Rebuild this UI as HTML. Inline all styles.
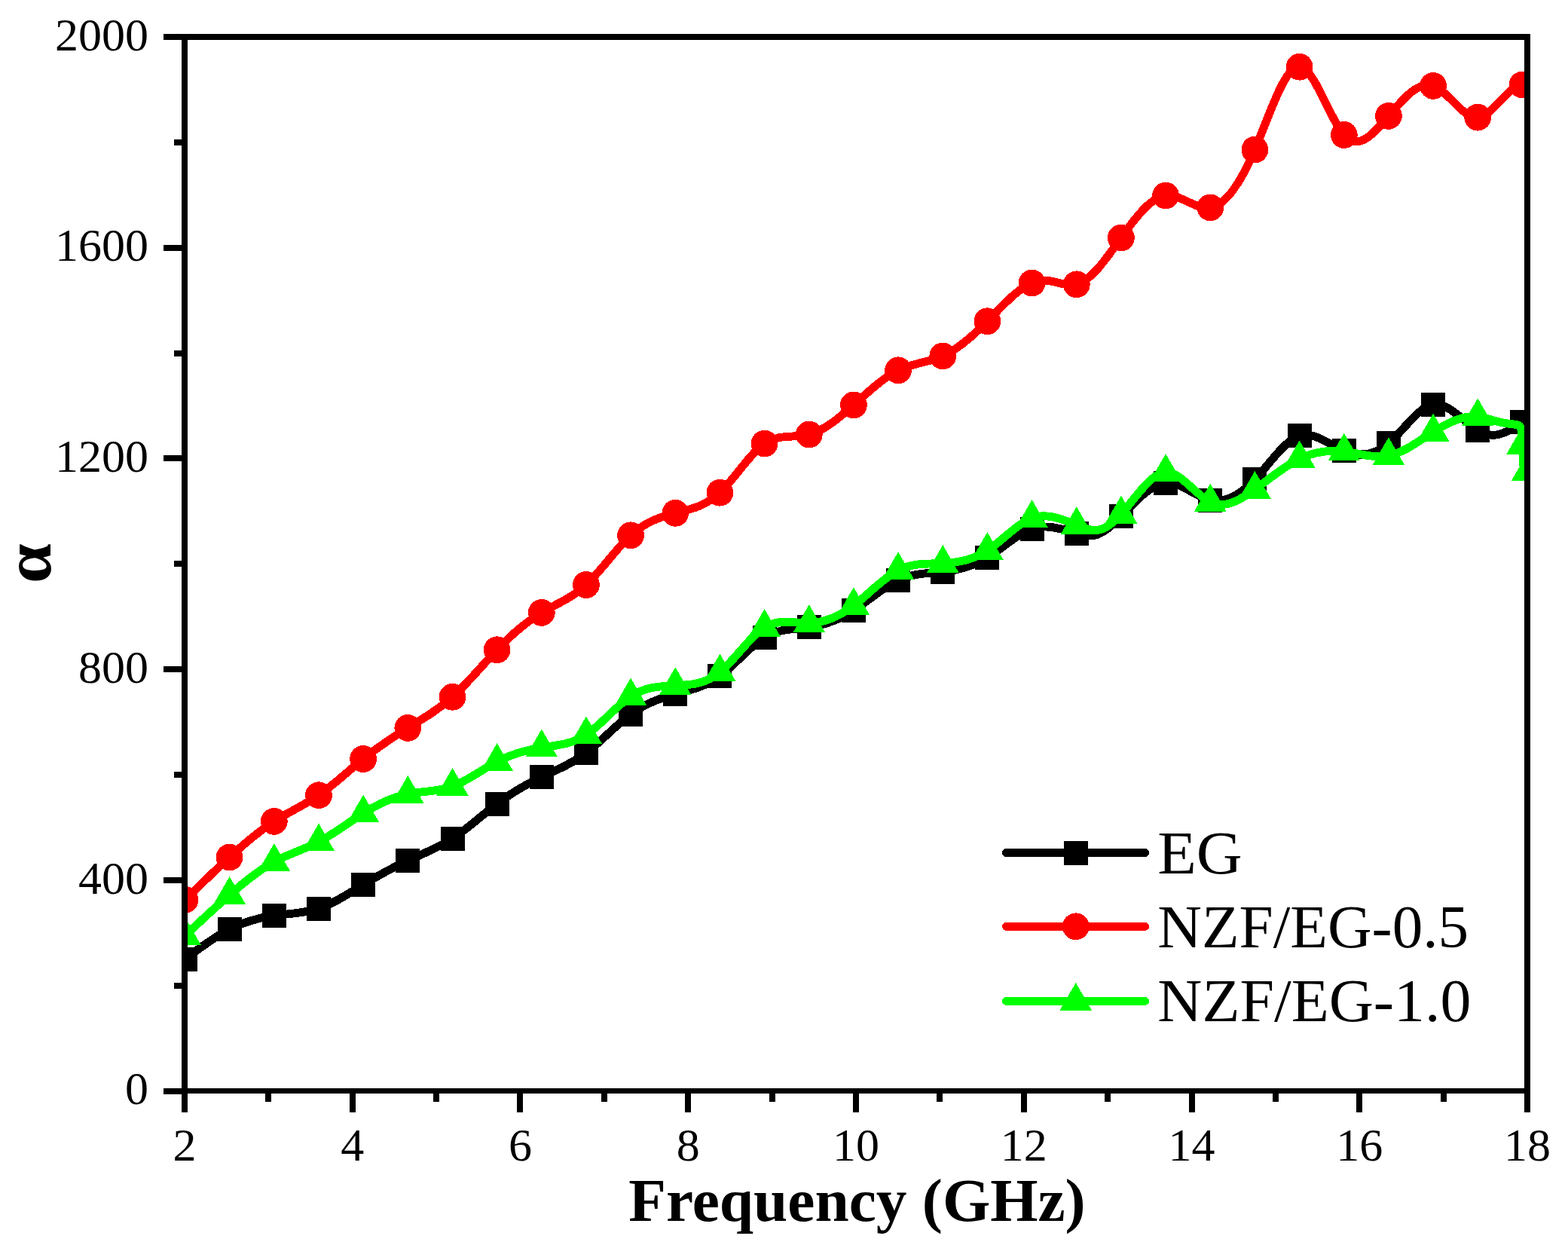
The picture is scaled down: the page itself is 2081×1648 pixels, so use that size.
<!DOCTYPE html>
<html><head><meta charset="utf-8"><title>Frequency vs alpha</title>
<style>html,body{margin:0;padding:0;background:#fff;}svg{display:block;}text{font-family:"Liberation Serif","Times New Roman",serif;fill:#000;}</style></head><body>
<svg width="2081" height="1648" viewBox="0 0 2081 1648" shape-rendering="crispEdges">
<rect x="0" y="0" width="2081" height="1648" fill="#fff"/>
<defs><clipPath id="pa"><rect x="245.0" y="48.9" width="1782.0" height="1398.8999999999999"/></clipPath></defs>
<g clip-path="url(#pa)">
<path d="M245.5,1272.5C265.2,1257.8 284.9,1243.0 304.6,1233.0C324.3,1223.0 344.1,1217.6 363.8,1214.9C383.5,1212.2 403.2,1212.1 423.0,1205.5C442.7,1198.9 462.4,1185.9 482.1,1173.9C501.8,1161.9 521.6,1150.9 541.3,1141.8C561.0,1132.7 580.7,1125.5 600.5,1112.7C620.2,1099.9 639.9,1081.4 659.6,1066.5C679.3,1051.6 699.1,1040.4 718.8,1031.0C738.5,1021.6 758.2,1013.9 777.9,999.0C797.7,984.1 817.4,962.1 837.1,947.6C856.8,933.1 876.6,926.2 896.3,920.8C916.0,915.4 935.7,911.7 955.4,897.2C975.2,882.7 994.9,857.6 1014.6,845.7C1034.3,833.8 1054.0,835.1 1073.8,832.3C1093.5,829.5 1113.2,822.6 1132.9,809.9C1152.7,797.2 1172.4,778.8 1192.1,769.7C1211.8,760.6 1231.5,760.8 1251.3,758.7C1271.0,756.6 1290.7,752.1 1310.4,740.0C1330.2,727.9 1349.9,708.1 1369.6,701.6C1389.3,695.1 1409.0,702.0 1428.8,707.7C1436.5,710.0 1444.3,712.0 1452.0,710.5C1464.0,708.1 1476.0,697.1 1487.9,685.0C1507.6,665.1 1527.4,642.2 1547.1,640.7C1566.8,639.2 1586.5,659.0 1606.3,663.5C1626.0,668.0 1645.7,657.1 1665.4,636.3C1685.1,615.5 1704.9,584.6 1724.6,578.3C1744.3,572.0 1764.0,590.2 1783.8,598.4C1803.5,606.6 1823.2,605.0 1842.9,588.3C1862.6,571.6 1882.4,540.0 1902.1,536.8C1921.8,533.6 1941.5,558.9 1961.2,570.8C1967.5,574.6 1973.7,577.0 1980.0,577.3C1993.5,578.0 2006.9,569.0 2020.4,560.0" fill="none" stroke="#000" stroke-width="10.9" stroke-linejoin="round" stroke-linecap="butt"/>
<g fill="#000">
<rect x="229.5" y="1256.5" width="32.0" height="32.0"/>
<rect x="288.6" y="1217.0" width="32.0" height="32.0"/>
<rect x="347.8" y="1198.9" width="32.0" height="32.0"/>
<rect x="407.0" y="1189.5" width="32.0" height="32.0"/>
<rect x="466.1" y="1157.9" width="32.0" height="32.0"/>
<rect x="525.3" y="1125.8" width="32.0" height="32.0"/>
<rect x="584.5" y="1096.7" width="32.0" height="32.0"/>
<rect x="643.6" y="1050.5" width="32.0" height="32.0"/>
<rect x="702.8" y="1015.0" width="32.0" height="32.0"/>
<rect x="761.9" y="983.0" width="32.0" height="32.0"/>
<rect x="821.1" y="931.6" width="32.0" height="32.0"/>
<rect x="880.3" y="904.8" width="32.0" height="32.0"/>
<rect x="939.4" y="881.2" width="32.0" height="32.0"/>
<rect x="998.6" y="829.7" width="32.0" height="32.0"/>
<rect x="1057.8" y="816.3" width="32.0" height="32.0"/>
<rect x="1116.9" y="793.9" width="32.0" height="32.0"/>
<rect x="1176.1" y="753.7" width="32.0" height="32.0"/>
<rect x="1235.3" y="742.7" width="32.0" height="32.0"/>
<rect x="1294.4" y="724.0" width="32.0" height="32.0"/>
<rect x="1353.6" y="685.6" width="32.0" height="32.0"/>
<rect x="1412.8" y="691.7" width="32.0" height="32.0"/>
<rect x="1471.9" y="669.0" width="32.0" height="32.0"/>
<rect x="1531.1" y="624.7" width="32.0" height="32.0"/>
<rect x="1590.3" y="647.5" width="32.0" height="32.0"/>
<rect x="1649.4" y="620.3" width="32.0" height="32.0"/>
<rect x="1708.6" y="562.3" width="32.0" height="32.0"/>
<rect x="1767.8" y="582.4" width="32.0" height="32.0"/>
<rect x="1826.9" y="572.3" width="32.0" height="32.0"/>
<rect x="1886.1" y="520.8" width="32.0" height="32.0"/>
<rect x="1945.2" y="554.8" width="32.0" height="32.0"/>
<rect x="2004.4" y="544.0" width="32.0" height="32.0"/>
</g>
<path d="M245.5,1193.9C265.2,1174.7 284.9,1155.5 304.6,1137.5C324.3,1119.5 344.1,1102.6 363.8,1089.9C383.5,1077.2 403.2,1068.8 423.0,1055.2C442.7,1041.6 462.4,1022.9 482.1,1007.0C501.8,991.1 521.6,978.0 541.3,965.9C561.0,953.8 580.7,942.5 600.5,924.8C620.2,907.1 639.9,882.9 659.6,862.3C679.3,841.7 699.1,824.8 718.8,812.9C738.5,801.0 758.2,794.2 777.9,776.0C797.7,757.8 817.4,728.3 837.1,710.3C856.8,692.3 876.6,685.8 896.3,680.8C916.0,675.8 935.7,672.1 955.4,653.7C975.2,635.3 994.9,602.0 1014.6,588.6C1034.3,575.2 1054.0,581.5 1073.8,576.5C1093.5,571.5 1113.2,555.0 1132.9,537.4C1152.7,519.8 1172.4,500.9 1192.1,491.3C1211.8,481.7 1231.5,481.2 1251.3,472.4C1271.0,463.6 1290.7,446.3 1310.4,426.3C1330.2,406.3 1349.9,383.4 1369.6,375.5C1377.1,372.5 1384.5,371.7 1392.0,372.6C1404.3,374.1 1416.5,380.4 1428.8,377.3C1448.5,372.3 1468.2,343.1 1487.9,315.5C1507.6,287.9 1527.4,261.8 1547.1,259.5C1566.8,257.2 1586.5,278.5 1606.3,275.4C1626.0,272.3 1645.7,244.8 1665.4,198.6C1685.1,152.4 1704.9,87.5 1724.6,88.7C1744.3,89.9 1764.0,157.1 1783.8,179.0C1803.5,200.9 1823.2,177.3 1842.9,153.9C1862.6,130.5 1882.4,107.2 1902.1,113.9C1921.8,120.6 1941.5,157.3 1961.2,155.7C1981.0,154.1 2000.7,114.1 2020.4,112.5C2022.7,112.3 2025.0,112.7 2027.3,113.0" fill="none" stroke="#ff0000" stroke-width="10.9" stroke-linejoin="round" stroke-linecap="butt"/>
<g fill="#ff0000">
<circle cx="245.5" cy="1193.9" r="17.9"/>
<circle cx="304.6" cy="1137.5" r="17.9"/>
<circle cx="363.8" cy="1089.9" r="17.9"/>
<circle cx="423.0" cy="1055.2" r="17.9"/>
<circle cx="482.1" cy="1007.0" r="17.9"/>
<circle cx="541.3" cy="965.9" r="17.9"/>
<circle cx="600.5" cy="924.8" r="17.9"/>
<circle cx="659.6" cy="862.3" r="17.9"/>
<circle cx="718.8" cy="812.9" r="17.9"/>
<circle cx="777.9" cy="776.0" r="17.9"/>
<circle cx="837.1" cy="710.3" r="17.9"/>
<circle cx="896.3" cy="680.8" r="17.9"/>
<circle cx="955.4" cy="653.7" r="17.9"/>
<circle cx="1014.6" cy="588.6" r="17.9"/>
<circle cx="1073.8" cy="576.5" r="17.9"/>
<circle cx="1132.9" cy="537.4" r="17.9"/>
<circle cx="1192.1" cy="491.3" r="17.9"/>
<circle cx="1251.3" cy="472.4" r="17.9"/>
<circle cx="1310.4" cy="426.3" r="17.9"/>
<circle cx="1369.6" cy="375.5" r="17.9"/>
<circle cx="1428.8" cy="377.3" r="17.9"/>
<circle cx="1487.9" cy="315.5" r="17.9"/>
<circle cx="1547.1" cy="259.5" r="17.9"/>
<circle cx="1606.3" cy="275.4" r="17.9"/>
<circle cx="1665.4" cy="198.6" r="17.9"/>
<circle cx="1724.6" cy="88.7" r="17.9"/>
<circle cx="1783.8" cy="179.0" r="17.9"/>
<circle cx="1842.9" cy="153.9" r="17.9"/>
<circle cx="1902.1" cy="113.9" r="17.9"/>
<circle cx="1961.2" cy="155.7" r="17.9"/>
<circle cx="2020.4" cy="112.5" r="17.9"/>
<circle cx="2027.3" cy="113.0" r="17.9"/>
</g>
<path d="M245.5,1241.5C265.2,1223.1 284.9,1204.7 304.6,1187.5C324.3,1170.3 344.1,1154.2 363.8,1143.5C383.5,1132.8 403.2,1127.5 423.0,1117.1C442.7,1106.7 462.4,1091.4 482.1,1079.1C501.8,1066.8 521.6,1057.6 541.3,1053.6C561.0,1049.6 580.7,1050.7 600.5,1043.5C620.2,1036.3 639.9,1020.9 659.6,1010.6C679.3,1000.3 699.1,995.1 718.8,992.0C738.5,988.9 758.2,988.0 777.9,975.0C797.7,962.0 817.4,936.9 837.1,924.0C856.8,911.1 876.6,910.5 896.3,909.7C916.0,908.9 935.7,908.1 955.4,892.0C975.2,875.9 994.9,844.7 1014.6,832.5C1034.3,820.3 1054.0,827.2 1073.8,826.7C1093.5,826.2 1113.2,818.5 1132.9,803.6C1152.7,788.7 1172.4,766.7 1192.1,756.6C1211.8,746.5 1231.5,748.4 1251.3,747.6C1271.0,746.8 1290.7,743.5 1310.4,730.5C1330.2,717.5 1349.9,694.9 1369.6,687.6C1389.3,680.3 1409.0,688.4 1428.8,696.7C1438.8,700.9 1448.9,705.2 1459.0,703.0C1468.6,700.9 1478.3,692.9 1487.9,682.2C1507.6,660.4 1527.4,627.5 1547.1,626.6C1566.8,625.7 1586.5,656.7 1606.3,666.2C1626.0,675.7 1645.7,663.7 1665.4,649.4C1685.1,635.1 1704.9,618.5 1724.6,608.9C1744.3,599.3 1764.0,596.8 1783.8,599.1C1803.5,601.4 1823.2,608.5 1842.9,604.6C1862.6,600.7 1882.4,585.7 1902.1,573.2C1921.8,560.7 1941.5,550.8 1961.2,552.9C1970.8,553.9 1980.4,557.7 1990.0,560.0C1997.7,561.8 2005.3,562.7 2013.0,563.5C2018.5,564 2020.5,570 2020.8,590 L2022.5,632" fill="none" stroke="#00ff00" stroke-width="10.9" stroke-linejoin="round" stroke-linecap="butt"/>
<g fill="#00ff00">
<polygon points="245.5,1217.0 224.2,1253.8 266.7,1253.8"/>
<polygon points="304.6,1163.0 283.4,1199.8 325.9,1199.8"/>
<polygon points="363.8,1119.0 342.5,1155.8 385.0,1155.8"/>
<polygon points="423.0,1092.6 401.7,1129.4 444.2,1129.4"/>
<polygon points="482.1,1054.6 460.9,1091.4 503.4,1091.4"/>
<polygon points="541.3,1029.1 520.0,1065.9 562.5,1065.9"/>
<polygon points="600.5,1019.0 579.2,1055.8 621.7,1055.8"/>
<polygon points="659.6,986.1 638.4,1022.9 680.9,1022.9"/>
<polygon points="718.8,967.5 697.5,1004.3 740.0,1004.3"/>
<polygon points="777.9,950.5 756.7,987.3 799.2,987.3"/>
<polygon points="837.1,899.5 815.9,936.3 858.4,936.3"/>
<polygon points="896.3,885.2 875.0,922.0 917.5,922.0"/>
<polygon points="955.4,867.5 934.2,904.3 976.7,904.3"/>
<polygon points="1014.6,808.0 993.4,844.8 1035.9,844.8"/>
<polygon points="1073.8,802.2 1052.5,839.0 1095.0,839.0"/>
<polygon points="1132.9,779.1 1111.7,815.9 1154.2,815.9"/>
<polygon points="1192.1,732.1 1170.8,768.9 1213.3,768.9"/>
<polygon points="1251.3,723.1 1230.0,759.9 1272.5,759.9"/>
<polygon points="1310.4,706.0 1289.2,742.8 1331.7,742.8"/>
<polygon points="1369.6,663.1 1348.3,699.9 1390.8,699.9"/>
<polygon points="1428.8,672.2 1407.5,709.0 1450.0,709.0"/>
<polygon points="1487.9,657.7 1466.7,694.5 1509.2,694.5"/>
<polygon points="1547.1,602.1 1525.8,638.9 1568.3,638.9"/>
<polygon points="1606.3,641.7 1585.0,678.5 1627.5,678.5"/>
<polygon points="1665.4,624.9 1644.2,661.7 1686.7,661.7"/>
<polygon points="1724.6,584.4 1703.3,621.2 1745.8,621.2"/>
<polygon points="1783.8,574.6 1762.5,611.4 1805.0,611.4"/>
<polygon points="1842.9,580.1 1821.7,616.9 1864.2,616.9"/>
<polygon points="1902.1,548.7 1880.8,585.5 1923.3,585.5"/>
<polygon points="1961.2,528.4 1940.0,565.2 1982.5,565.2"/>
<polygon points="2020.4,566.0 1999.2,602.8 2041.7,602.8"/>
<polygon points="2027.3,600.9 2006.0,637.7 2048.6,637.7"/>
</g>
</g>
<g fill="#000"><rect x="241" y="45" width="1790" height="8"/><rect x="241" y="1444" width="1790" height="7"/><rect x="241" y="45" width="8" height="1407"/><rect x="2023" y="45" width="8" height="1406"/><rect x="217" y="1444" width="28" height="8"/><rect x="217" y="1164" width="28" height="8"/><rect x="217" y="884" width="28" height="8"/><rect x="217" y="604" width="28" height="8"/><rect x="217" y="325" width="28" height="8"/><rect x="217" y="45" width="28" height="8"/><rect x="231" y="1304" width="14" height="8"/><rect x="231" y="1024" width="14" height="8"/><rect x="231" y="744" width="14" height="8"/><rect x="231" y="465" width="14" height="8"/><rect x="231" y="185" width="14" height="8"/><rect x="241" y="1444" width="8" height="32"/><rect x="464" y="1444" width="8" height="32"/><rect x="686" y="1444" width="8" height="32"/><rect x="909" y="1444" width="8" height="32"/><rect x="1132" y="1444" width="8" height="32"/><rect x="1355" y="1444" width="8" height="32"/><rect x="1578" y="1444" width="8" height="32"/><rect x="1800" y="1444" width="8" height="32"/><rect x="2023" y="1444" width="8" height="32"/><rect x="352" y="1444" width="8" height="18"/><rect x="575" y="1444" width="8" height="18"/><rect x="798" y="1444" width="8" height="18"/><rect x="1021" y="1444" width="8" height="18"/><rect x="1243" y="1444" width="8" height="18"/><rect x="1466" y="1444" width="8" height="18"/><rect x="1689" y="1444" width="8" height="18"/><rect x="1912" y="1444" width="8" height="18"/></g>
<g font-size="62">
<text x="197" y="1465.4" text-anchor="end">0</text>
<text x="197" y="1185.6" text-anchor="end">400</text>
<text x="197" y="905.8" text-anchor="end">800</text>
<text x="197" y="626.1" text-anchor="end">1200</text>
<text x="197" y="346.3" text-anchor="end">1600</text>
<text x="197" y="66.5" text-anchor="end">2000</text>
<text x="245.0" y="1540.2" text-anchor="middle">2</text>
<text x="467.8" y="1540.2" text-anchor="middle">4</text>
<text x="690.5" y="1540.2" text-anchor="middle">6</text>
<text x="913.2" y="1540.2" text-anchor="middle">8</text>
<text x="1136.0" y="1540.2" text-anchor="middle">10</text>
<text x="1358.8" y="1540.2" text-anchor="middle">12</text>
<text x="1581.5" y="1540.2" text-anchor="middle">14</text>
<text x="1804.2" y="1540.2" text-anchor="middle">16</text>
<text x="2027.0" y="1540.2" text-anchor="middle">18</text>
</g>
<text transform="translate(834.3,1619.8) scale(1.0236,1)" font-size="79.5" font-weight="bold">Frequency (GHz)</text>
<text transform="translate(67.4,747.6) rotate(-90) scale(1.05,0.984)" text-anchor="middle" font-size="90" font-weight="bold">α</text>
<line x1="1335.5" y1="1131.5" x2="1519.6" y2="1131.5" stroke="#000" stroke-width="10.9" stroke-linecap="round"/>
<g fill="#000"><rect x="1411.8" y="1115.5" width="32.0" height="32.0"/></g>
<text transform="translate(1536.3,1158.8) scale(1.062,1)" font-size="79.5">EG</text>
<line x1="1335.5" y1="1229.3" x2="1519.6" y2="1229.3" stroke="#ff0000" stroke-width="10.9" stroke-linecap="round"/>
<g fill="#ff0000"><circle cx="1427.8" cy="1229.3" r="17.9"/></g>
<text transform="translate(1536.3,1257) scale(1.022,1)" font-size="79.5">NZF/EG-0.5</text>
<line x1="1335.5" y1="1328.4" x2="1519.6" y2="1328.4" stroke="#00ff00" stroke-width="10.9" stroke-linecap="round"/>
<g fill="#00ff00"><polygon points="1427.8,1303.9 1406.5,1340.7 1449.0,1340.7"/></g>
<text transform="translate(1536.3,1355.3) scale(1.03,1)" font-size="79.5">NZF/EG-1.0</text>
</svg></body></html>
